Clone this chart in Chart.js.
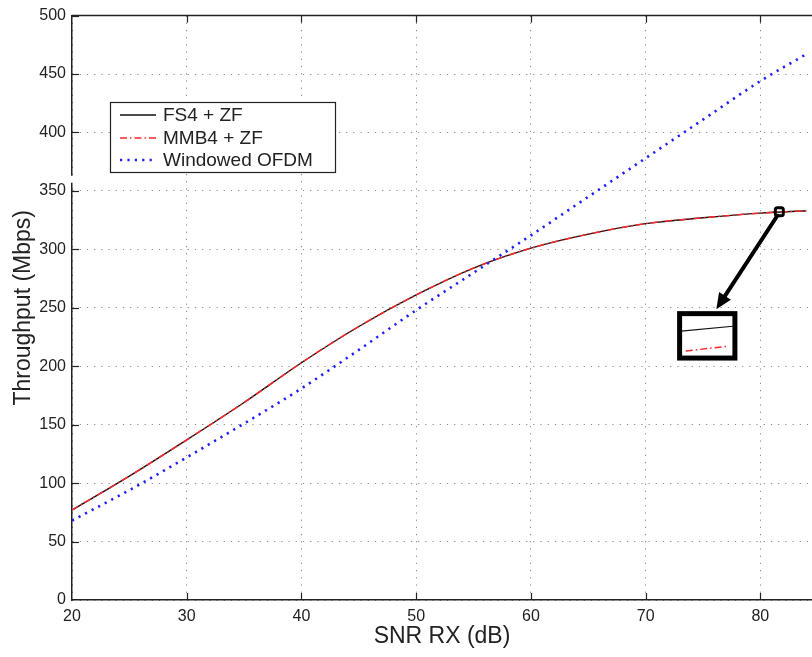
<!DOCTYPE html>
<html><head><meta charset="utf-8">
<script src="https://cdn.jsdelivr.net/npm/chart.js@4/dist/chart.umd.min.js"></script>
<style>html,body{margin:0;padding:0;background:#fff;}#wrap{width:812px;height:657px;}</style>
</head><body><div id="wrap"><canvas id="c" width="812" height="657"></canvas></div>
<script>
// ---- data ----
const snr   = [20, 25, 30, 35, 40, 45, 50, 55, 60, 65, 70, 75, 80, 84];
const fs4   = [77, 106, 137, 169, 203, 234, 261, 284, 301, 313, 322, 327, 331, 333];
const mmb4  = [77, 106, 137, 169, 203, 234, 261, 284, 301, 313, 322, 327, 331, 333];
const ofdm  = [68, 94, 122, 151, 181, 214, 248, 280, 312, 345, 378, 411, 444, 467];
const seriesLabels = ['FS4 + ZF', 'MMB4 + ZF', 'Windowed OFDM'];
const xTicks = [20, 30, 40, 50, 60, 70, 80];
const yTicks = [0, 50, 100, 150, 200, 250, 300, 350, 400, 450, 500];
const xTitle = 'SNR RX (dB)';
const yTitle = 'Throughput (Mbps)';

// zoom annotation (data units)
const zoomMark   = [81.65, 332.2];
const arrowTip   = [76.16, 248.7];
const insetBoxX  = [72.96, 77.78];
const insetBoxY  = [245, 207];
const insetFs4X  = [73.1, 77.6];
const insetFs4Y  = [230, 234.2];
const insetMmbX  = [73.5, 77.2];
const insetMmbY  = [213, 217.2];
const axisGapY   = [357, 363];

const FONT = "'Liberation Sans', Arial, Helvetica, sans-serif";
const INK = '#222';

const pts = ys => snr.map((x, i) => ({x: x, y: ys[i]}));

const styles = [
  {borderColor: '#111', borderWidth: 1.4, borderDash: []},
  {borderColor: 'rgb(255,40,40)', borderWidth: 1.5, borderDash: [7, 3, 1.5, 3]},
  {borderColor: 'rgb(30,30,255)', borderWidth: 2.6, borderDash: [2.2, 5.2]}
];

const decor = {
  id: 'decor',
  afterDatasetsDraw(chart) {
    const ctx = chart.ctx, a = chart.chartArea;
    const xs = chart.scales.x, ys = chart.scales.y;
    const X = v => xs.getPixelForValue(v), Y = v => ys.getPixelForValue(v);
    ctx.save();
    // top border
    ctx.strokeStyle = INK; ctx.lineWidth = 1.5;
    ctx.beginPath(); ctx.moveTo(a.left, a.top); ctx.lineTo(a.right, a.top); ctx.stroke();
    // inside ticks
    ctx.lineWidth = 1.2;
    xTicks.forEach(v => {
      if (v === xs.min) return;
      const px = Math.round(X(v)) + 0.5;
      ctx.beginPath(); ctx.moveTo(px, a.bottom); ctx.lineTo(px, a.bottom - 7); ctx.stroke();
      ctx.beginPath(); ctx.moveTo(px, a.top); ctx.lineTo(px, a.top + 7); ctx.stroke();
    });
    yTicks.forEach(v => {
      if (v === ys.min) return;
      const py = Math.round(Y(v)) + 0.5;
      ctx.beginPath(); ctx.moveTo(a.left, py); ctx.lineTo(a.left + 7, py); ctx.stroke();
    });
    // axis gap artifact
    ctx.fillStyle = '#fff';
    ctx.fillRect(a.left - 2, Y(axisGapY[1]), 4, Y(axisGapY[0]) - Y(axisGapY[1]));

    // zoom annotation
    ctx.strokeStyle = '#000';
    ctx.lineJoin = 'round'; ctx.lineCap = 'round';
    const mx = X(zoomMark[0]), my = Y(zoomMark[1]);
    ctx.lineWidth = 3;
    ctx.beginPath();
    if (ctx.roundRect) ctx.roundRect(mx - 4, my - 4, 8, 8, 2); else ctx.rect(mx - 4, my - 4, 8, 8);
    ctx.stroke();
    const tx = X(arrowTip[0]), ty = Y(arrowTip[1]);
    const ang = Math.atan2(ty - my, tx - mx);
    const hl = 16, hw = 7;
    const bx = tx - hl * Math.cos(ang), by = ty - hl * Math.sin(ang);
    ctx.lineWidth = 4;
    ctx.beginPath(); ctx.moveTo(mx - 2, my + 4); ctx.lineTo(bx, by); ctx.stroke();
    ctx.fillStyle = '#000';
    ctx.beginPath();
    ctx.moveTo(tx, ty);
    ctx.lineTo(bx + hw * Math.sin(ang), by - hw * Math.cos(ang));
    ctx.lineTo(bx - hw * Math.sin(ang), by + hw * Math.cos(ang));
    ctx.closePath(); ctx.fill();
    const b0 = X(insetBoxX[0]), b1 = X(insetBoxX[1]), t0 = Y(insetBoxY[0]), t1 = Y(insetBoxY[1]);
    ctx.fillStyle = '#fff';
    ctx.fillRect(b0, t0, b1 - b0, t1 - t0);
    ctx.lineWidth = 5; ctx.lineJoin = 'miter'; ctx.lineCap = 'butt';
    ctx.strokeRect(b0, t0, b1 - b0, t1 - t0);
    ctx.lineWidth = 1.2; ctx.strokeStyle = styles[0].borderColor; ctx.setLineDash([]);
    ctx.beginPath(); ctx.moveTo(X(insetFs4X[0]), Y(insetFs4Y[0])); ctx.lineTo(X(insetFs4X[1]), Y(insetFs4Y[1])); ctx.stroke();
    ctx.strokeStyle = styles[1].borderColor; ctx.setLineDash(styles[1].borderDash); ctx.lineWidth = 1.5;
    ctx.beginPath(); ctx.moveTo(X(insetMmbX[0]), Y(insetMmbY[0])); ctx.lineTo(X(insetMmbX[1]), Y(insetMmbY[1])); ctx.stroke();
    ctx.setLineDash([]);

    // legend
    const L = 110.5, T = 102.5, W = 225, H = 70;
    ctx.fillStyle = '#fff'; ctx.fillRect(L, T, W, H);
    ctx.strokeStyle = INK; ctx.lineWidth = 1.2; ctx.strokeRect(L, T, W, H);
    const rows = [115, 138, 160];
    ctx.font = '19px ' + FONT; ctx.textBaseline = 'middle'; ctx.textAlign = 'left';
    chart.data.datasets.forEach((ds, i) => {
      ctx.strokeStyle = ds.borderColor; ctx.lineWidth = ds.borderWidth;
      ctx.setLineDash(ds.borderDash || []);
      ctx.beginPath(); ctx.moveTo(120, rows[i]); ctx.lineTo(156, rows[i]); ctx.stroke();
      ctx.setLineDash([]);
      ctx.fillStyle = INK; ctx.fillText(ds.label, 163, rows[i] + 1);
    });
    ctx.restore();
  }
};

const tickFont = {family: FONT, size: 16};
const titleFont = {family: FONT, size: 23};

new Chart(document.getElementById('c'), {
  type: 'line',
  data: {
    datasets: [
      Object.assign({label: seriesLabels[0], data: pts(fs4), order: 2}, styles[0]),
      Object.assign({label: seriesLabels[1], data: pts(mmb4), order: 1}, styles[1]),
      Object.assign({label: seriesLabels[2], data: pts(ofdm), order: 0}, styles[2])
    ].map(d => Object.assign(d, {pointRadius: 0, fill: false, cubicInterpolationMode: 'monotone'}))
  },
  options: {
    responsive: false,
    animation: false,
    devicePixelRatio: 1,
    layout: {padding: {top: 13, right: 0, bottom: 0, left: 0}},
    plugins: {legend: {display: false}, tooltip: {enabled: false}},
    scales: {
      x: {
        type: 'linear', min: 20, max: 84.5,
        afterBuildTicks: s => { s.ticks = xTicks.map(v => ({value: v})); },
        afterFit: s => { s.height = 57; },
        ticks: {font: tickFont, color: INK, padding: 7, maxRotation: 0, autoSkip: false},
        grid: {color: '#8a8a8a', lineWidth: 1, drawTicks: false},
        border: {display: true, color: INK, width: 1.5, dash: [1.2, 6]},
        title: {display: true, text: xTitle, font: titleFont, color: INK, padding: {top: 0, bottom: 7}}
      },
      y: {
        type: 'linear', min: 0, max: 500,
        afterBuildTicks: s => { s.ticks = yTicks.map(v => ({value: v})); },
        afterFit: s => { s.width = 72; },
        ticks: {font: tickFont, color: INK, padding: 6, autoSkip: false},
        grid: {color: '#8a8a8a', lineWidth: 1, drawTicks: false},
        border: {display: true, color: INK, width: 1.5, dash: [1.2, 6]},
        title: {display: true, text: yTitle, font: titleFont, color: INK, padding: {top: 10, bottom: 0}}
      }
    }
  },
  plugins: [decor]
});
</script>
</body></html>
